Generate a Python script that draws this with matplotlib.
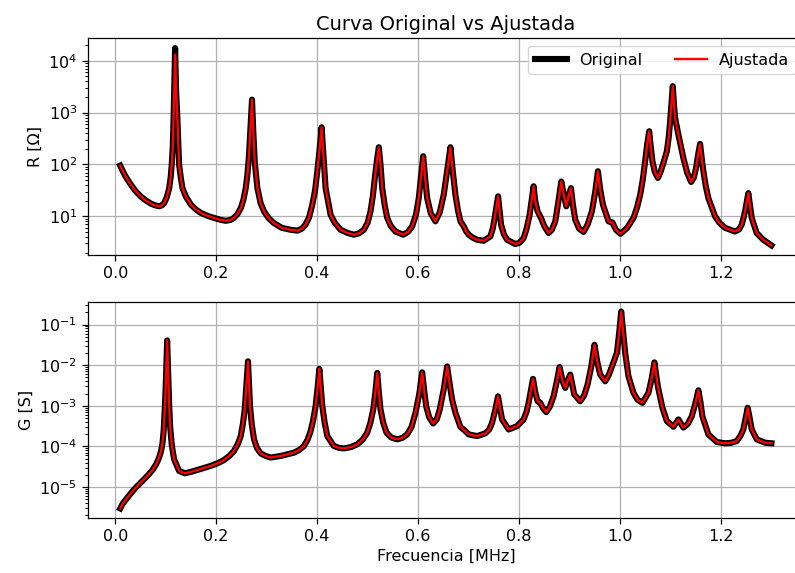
import matplotlib
matplotlib.use("Agg")
import matplotlib.pyplot as plt
import numpy as np

# valores (frecuencia en MHz)
f_R = [0.010, 0.015, 0.020, 0.025, 0.031, 0.040, 0.051, 0.060, 0.071, 0.080,
       0.087, 0.092, 0.097, 0.102, 0.107, 0.110, 0.112, 0.114, 0.1155, 0.117,
       0.1187, 0.1205, 0.1234, 0.125, 0.1266, 0.130, 0.1333, 0.140, 0.150, 0.160,
       0.170, 0.183, 0.196, 0.208, 0.219, 0.228, 0.235, 0.242, 0.249, 0.254,
       0.2586, 0.262, 0.2651, 0.268, 0.271, 0.2735, 0.2765, 0.2817, 0.288, 0.2948,
       0.304, 0.3145, 0.330, 0.3476, 0.361, 0.370, 0.377, 0.384, 0.3905, 0.396,
       0.4004, 0.405, 0.4089, 0.4125, 0.4168, 0.4267, 0.435, 0.4465, 0.460, 0.4728,
       0.483, 0.4926, 0.500, 0.5058, 0.5105, 0.5143, 0.5185, 0.5223, 0.5255, 0.529,
       0.534, 0.5389, 0.546, 0.5553, 0.5705, 0.580, 0.5883, 0.596, 0.6014, 0.606,
       0.6101, 0.614, 0.618, 0.625, 0.6344, 0.643, 0.6508, 0.658, 0.6641, 0.669,
       0.674, 0.679, 0.684, 0.6904, 0.695, 0.7003, 0.708, 0.717, 0.730, 0.7432,
       0.748, 0.7517, 0.7555, 0.7585, 0.7615, 0.7644, 0.770, 0.7763, 0.7927, 0.801,
       0.8091, 0.815, 0.821, 0.8255, 0.8289, 0.832, 0.8368, 0.8435, 0.850, 0.8586,
       0.865, 0.8718, 0.8775, 0.8837, 0.889, 0.8936, 0.8985, 0.9029, 0.907, 0.9114,
       0.919, 0.9278, 0.936, 0.9444, 0.951, 0.9563, 0.961, 0.9662, 0.9773, 0.985,
       0.9919, 1.001, 1.0137, 1.0267, 1.034, 1.040, 1.045, 1.0498, 1.054, 1.0578,
       1.061, 1.0643, 1.069, 1.075, 1.080, 1.086, 1.0928, 1.0965, 1.0993, 1.102,
       1.1046, 1.107, 1.1092, 1.1157, 1.1256, 1.133, 1.1409, 1.146, 1.1507, 1.155,
       1.1587, 1.162, 1.1652, 1.170, 1.1751, 1.1883, 1.197, 1.2081, 1.2279, 1.236,
       1.2411, 1.245, 1.249, 1.2542, 1.258, 1.261, 1.2708, 1.2839, 1.300]
R_orig = [95, 75, 60, 50, 41, 31, 24, 20.5, 17.5, 16.2,
          15.6, 16.2, 18, 23, 35, 58, 100, 220, 680, 3000,
          17500, 3000, 680, 250, 100, 55, 35, 24, 16.8, 13.5,
          11.6, 10.2, 9.3, 8.6, 8.2, 8.5, 9.3, 11, 14.5, 21,
          35, 65, 155, 500, 1780, 450, 110, 35, 18, 12.5,
          9.2, 7.4, 6.0, 5.5, 5.3, 5.8, 6.9, 9.5, 16.8, 32,
          74, 200, 522, 150, 35, 10.7, 7.5, 5.5, 4.8, 4.42,
          4.7, 5.5, 7.5, 12.5, 25, 55, 120, 215, 100, 35,
          16, 9.3, 6.5, 5.1, 4.42, 5.0, 6.4, 11, 22.5, 60,
          144, 55, 22.5, 11.5, 8.0, 12, 26, 80, 215, 70,
          26, 13, 8.0, 6.4, 5.2, 4.42, 3.9, 3.53, 3.38, 4.1,
          5.8, 9.3, 16, 24.3, 13, 6.9, 4.5, 3.53, 2.92, 3.1,
          3.8, 5.8, 10.7, 22, 38, 20, 12.5, 9.3, 6.5, 4.76,
          5.5, 8.0, 18, 47, 25, 15.6, 25, 35, 16, 8.6,
          5.8, 5.0, 7, 12.5, 30, 74, 32, 16.8, 8.0, 7.6,
          5.5, 4.6, 5.9, 9.3, 15, 26, 50, 115, 250, 437,
          220, 115, 72, 55, 70, 107, 180, 330, 680, 1500,
          3240, 1400, 790, 376, 133, 70, 46, 55, 85, 160,
          249, 130, 74, 38, 22.5, 10, 7.5, 6.0, 5.1, 5.6,
          6.9, 9.5, 14.5, 28, 15, 9.3, 4.76, 3.53, 2.75]
# el ajuste solo se separa del original en el primer pico
R_ajus = list(R_orig)
R_ajus[20] = 13000

f_G = [0.010, 0.015, 0.0245, 0.033, 0.041, 0.049, 0.0574, 0.066, 0.074, 0.081,
       0.087, 0.091, 0.0938, 0.096, 0.0985, 0.1003, 0.1015, 0.1029, 0.1042, 0.1056,
       0.107, 0.1088, 0.112, 0.1167, 0.1266, 0.1379, 0.150, 0.163, 0.176, 0.1893,
       0.203, 0.2156, 0.226, 0.2354, 0.243, 0.2487, 0.253, 0.2566, 0.2598, 0.2631,
       0.2651, 0.2671, 0.2705, 0.275, 0.281, 0.2882, 0.298, 0.308, 0.3278, 0.3541,
       0.365, 0.3739, 0.381, 0.3871, 0.392, 0.397, 0.401, 0.4044, 0.4073, 0.4103,
       0.415, 0.4202, 0.4332, 0.443, 0.453, 0.467, 0.4795, 0.490, 0.4993, 0.5055,
       0.5112, 0.5155, 0.5191, 0.5222, 0.5256, 0.531, 0.5375, 0.547, 0.5586, 0.569,
       0.5784, 0.587, 0.5949, 0.6025, 0.6081, 0.6125, 0.616, 0.622, 0.6299, 0.637,
       0.6429, 0.651, 0.6576, 0.6625, 0.6674, 0.674, 0.6839, 0.6918, 0.7003, 0.7169,
       0.7333, 0.741, 0.7466, 0.7525, 0.7584, 0.7625, 0.7664, 0.7794, 0.796, 0.8091,
       0.815, 0.819, 0.8235, 0.8277, 0.832, 0.8368, 0.8421, 0.848, 0.854, 0.861,
       0.8684, 0.8745, 0.8803, 0.8865, 0.8916, 0.8965, 0.9015, 0.9055, 0.9094, 0.9213,
       0.929, 0.9357, 0.943, 0.9495, 0.955, 0.9608, 0.9707, 0.978, 0.984, 0.9939,
       0.9985, 1.0024, 1.0065, 1.0103, 1.0168, 1.0267, 1.035, 1.0445, 1.0564, 1.0625,
       1.0682, 1.0715, 1.075, 1.0841, 1.0928, 1.1058, 1.1157, 1.1256, 1.1345, 1.1422,
       1.149, 1.1553, 1.1595, 1.1632, 1.1751, 1.1917, 1.2081, 1.220, 1.2312, 1.2385,
       1.2443, 1.2487, 1.253, 1.2572, 1.261, 1.2708, 1.2873, 1.300]
G_orig = [2.96e-6, 3.9e-6, 5.5e-6, 7.5e-6, 9.7e-6, 1.22e-5, 1.55e-5, 2.0e-5, 2.63e-5, 3.6e-5,
          5.3e-5, 7.8e-5, 1.23e-4, 2.4e-4, 1.0e-3, 3.66e-3, 0.012, 0.0407, 0.012, 3.66e-3,
          1.0e-3, 3.15e-4, 1.1e-4, 4.8e-5, 2.48e-5, 2.17e-5, 2.35e-5, 2.63e-5, 2.95e-5, 3.3e-5,
          3.85e-5, 4.6e-5, 5.8e-5, 7.7e-5, 1.15e-4, 1.79e-4, 3.6e-4, 8.1e-4, 3.0e-3, 0.0124,
          3.5e-3, 9.8e-4, 3.5e-4, 1.49e-4, 9.0e-5, 6.7e-5, 5.8e-5, 5.3e-5, 5.8e-5, 7.0e-5,
          8.2e-5, 1.02e-4, 1.45e-4, 2.37e-4, 4.3e-4, 9.8e-4, 2.8e-3, 8.1e-3, 2.8e-3, 9.8e-4,
          3.8e-4, 1.79e-4, 1.02e-4, 9.2e-5, 8.9e-5, 9.6e-5, 1.12e-4, 1.45e-4, 2.17e-4, 3.8e-4,
          8.1e-4, 2.2e-3, 6.45e-3, 2.2e-3, 8.1e-4, 3.8e-4, 2.17e-4, 1.65e-4, 1.49e-4, 1.62e-4,
          1.97e-4, 3.0e-4, 6.7e-4, 2.0e-3, 6.65e-3, 2.2e-3, 9.8e-4, 5.2e-4, 3.66e-4, 4.6e-4,
          8.1e-4, 2.6e-3, 9.3e-3, 3.5e-3, 1.42e-3, 6.7e-4, 3.0e-4, 2.5e-4, 1.97e-4, 1.79e-4,
          2.09e-4, 2.6e-4, 3.8e-4, 7.5e-4, 1.71e-3, 8.5e-4, 4.6e-4, 2.6e-4, 3.15e-4, 4.6e-4,
          7.2e-4, 1.18e-3, 2.4e-3, 4.6e-3, 2.2e-3, 1.29e-3, 1.18e-3, 8.5e-4, 6.95e-4, 9.5e-4,
          1.71e-3, 3.8e-3, 9.0e-3, 4.0e-3, 2.75e-3, 4.2e-3, 5.85e-3, 3.3e-3, 1.89e-3, 1.29e-3,
          1.8e-3, 3.3e-3, 9.0e-3, 0.0318, 0.012, 5.85e-3, 4.0e-3, 5.8e-3, 9.3e-3, 0.02,
          0.065, 0.209, 0.06, 0.02, 5.3e-3, 2.08e-3, 1.4e-3, 1.18e-3, 2.08e-3, 4.5e-3,
          0.0117, 6.0e-3, 3.0e-3, 8.9e-4, 4.2e-4, 3.04e-4, 4.6e-4, 2.9e-4, 3.6e-4, 5.5e-4,
          1.1e-3, 2.4e-3, 1.2e-3, 5.5e-4, 1.97e-4, 1.28e-4, 1.19e-4, 1.22e-4, 1.35e-4, 1.8e-4,
          2.6e-4, 4.8e-4, 8.9e-4, 4.8e-4, 2.6e-4, 1.49e-4, 1.23e-4, 1.19e-4]
G_ajus = list(G_orig)

assert len(f_R) == len(R_orig) and len(f_G) == len(G_orig)

plt.rcParams['font.size'] = 11.5

fig = plt.figure(figsize=(7.95, 5.73), dpi=100)
ax1 = fig.add_axes([0.1103, 0.5545, 0.9010, 0.3787])
ax2 = fig.add_axes([0.1103, 0.0955, 0.9010, 0.3780])

ax1.plot(f_R, R_orig, color='black', lw=4.4, label='Original')
ax1.plot(f_R, R_ajus, color='red', lw=1.7, label='Ajustada')
ax1.set_yscale('log')
ax1.set_ylabel('R [Ω]')
ax1.set_title('Curva Original vs Ajustada', fontsize=14)
ax1.grid(True, color='#b0b0b0', lw=0.9)
ax1.legend(loc='upper right', ncol=2)

ax2.plot(f_G, G_orig, color='black', lw=4.4, label='Original')
ax2.plot(f_G, G_ajus, color='red', lw=1.7, label='Ajustada')
ax2.set_yscale('log')
ax2.set_ylabel('G [S]')
ax2.set_xlabel('Frecuencia [MHz]')
ax2.grid(True, color='#b0b0b0', lw=0.9)

for ax in (ax1, ax2):
    ax.tick_params(width=0.9, length=4)
    ax.tick_params(which='minor', width=0.7, length=2.3)
    for s in ax.spines.values():
        s.set_linewidth(0.9)

plt.savefig("out.png", dpi=100)
